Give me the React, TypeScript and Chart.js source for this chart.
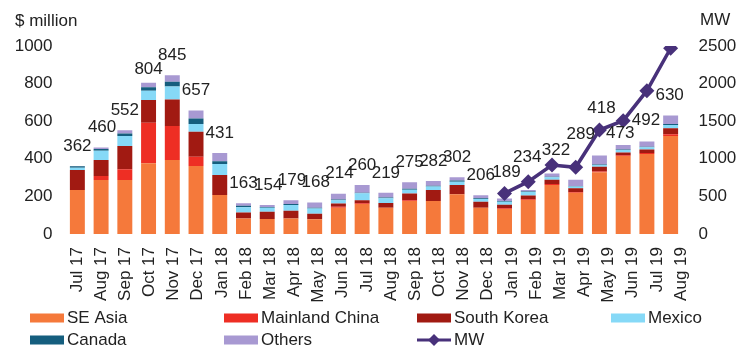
import React, { useEffect, useRef } from "react";
import { Chart, registerables } from "chart.js";

Chart.register(...registerables);

const months = [
  "Jul 17", "Aug 17", "Sep 17", "Oct 17", "Nov 17", "Dec 17", "Jan 18", "Feb 18", "Mar 18",
  "Apr 18", "May 18", "Jun 18", "Jul 18", "Aug 18", "Sep 18", "Oct 18", "Nov 18", "Dec 18",
  "Jan 19", "Feb 19", "Mar 19", "Apr 19", "May 19", "Jun 19", "Jul 19", "Aug 19",
];

const seAsia = [234, 287, 287, 376, 394, 362, 207, 83, 80, 82, 78, 140, 160, 140, 175, 175, 211, 140, 133, 181, 261, 220, 328, 415, 426, 521];
const mainlandChina = [0, 21, 57, 216, 180, 49, 0, 0, 0, 0, 0, 5, 4, 0, 5, 0, 0, 0, 4, 4, 5, 4, 5, 4, 5, 10];
const southKorea = [106, 86, 124, 121, 142, 133, 107, 32, 39, 42, 30, 17, 15, 25, 36, 59, 50, 32, 18, 20, 23, 20, 25, 15, 19, 31];
const mexico = [12, 49, 53, 49, 68, 41, 58, 27, 20, 30, 27, 18, 38, 25, 20, 18, 17, 14, 16, 18, 13, 9, 9, 13, 11, 18];
const canada = [8, 9, 14, 18, 26, 30, 15, 8, 4, 5, 5, 4, 3, 4, 5, 5, 6, 4, 4, 3, 3, 2, 3, 3, 3, 5];
const others = [2, 8, 17, 24, 35, 42, 44, 13, 11, 20, 28, 30, 40, 25, 34, 25, 18, 16, 14, 8, 17, 34, 48, 23, 28, 45];
const totals = [362, 460, 552, 804, 845, 657, 431, 163, 154, 179, 168, 214, 260, 219, 275, 282, 302, 206, 189, 234, 322, 289, 418, 473, 492, 630];
const mw = [null, null, null, null, null, null, null, null, null, null, null, null, null, null, null, null, null, null, 540, 696, 918, 887, 1383, 1507, 1906, 2470];

const leftTicks = [0, 200, 400, 600, 800, 1000];
const rightTicks = [0, 500, 1000, 1500, 2000, 2500];

// annotation nudges for the total labels (dx, dy in px)
const labelNudge: [number, number][] = [
  [0, 0], [1, 0], [0, 0], [0, 6], [0, 0], [0, 0], [0, 0], [0, 0], [1, 0],
  [1, 0], [1, 0], [1, 0], [0, 0], [0, 0], [0, 0], [0, 0], [0, 0], [0, 0],
  [2, -6], [-1, -13], [4, -3], [5, -25], [2, -27], [-3, 8], [-1, -1], [-1, 0],
];

const FONT = "'Liberation Sans', Arial, Helvetica, sans-serif";
const TEXT = "#222222";

const colors = {
  se: "#F5793B",
  cn: "#EE2E24",
  kr: "#A11A12",
  mx: "#86D9F7",
  ca: "#155E7E",
  ot: "#A899D2",
  mw: "#48317A",
};

const legendItems = [
  { label: "SE Asia", color: colors.se, kind: "box" },
  { label: "Mainland China", color: colors.cn, kind: "box" },
  { label: "South Korea", color: colors.kr, kind: "box" },
  { label: "Mexico", color: colors.mx, kind: "box" },
  { label: "Canada", color: colors.ca, kind: "box" },
  { label: "Others", color: colors.ot, kind: "box" },
  { label: "MW", color: colors.mw, kind: "line" },
];

const labelPlugin = {
  id: "totalsAndDecor",
  afterDatasetsDraw(chart: any) {
    const ctx = chart.ctx;
    const x = chart.scales.x;
    const y = chart.scales.y;
    ctx.save();
    ctx.font = `17px ${FONT}`;
    ctx.fillStyle = TEXT;
    ctx.textAlign = "center";
    ctx.textBaseline = "middle";
    totals.forEach((t, i) => {
      const px = x.getPixelForValue(i) + labelNudge[i][0];
      const py = y.getPixelForValue(t) - 20 + labelNudge[i][1];
      ctx.fillText(String(t), px, py);
    });
    ctx.restore();
  },
  afterDraw(chart: any) {
    const ctx = chart.ctx;
    ctx.save();
    ctx.font = `17px ${FONT}`;
    ctx.fillStyle = TEXT;
    ctx.textBaseline = "middle";
    ctx.textAlign = "left";
    ctx.fillText("$ million", 15, 21);
    ctx.fillText("MW", 700, 20);
    // legend
    const cols = [30, 224, 417, 611];
    const rows = [318, 340];
    legendItems.forEach((it, i) => {
      const cx = cols[i % 4];
      const cy = rows[Math.floor(i / 4)];
      if (it.kind === "box") {
        ctx.fillStyle = it.color;
        ctx.fillRect(cx, cy - 4.5, 34, 9);
      } else {
        ctx.strokeStyle = it.color;
        ctx.lineWidth = 3;
        ctx.beginPath();
        ctx.moveTo(cx, cy);
        ctx.lineTo(cx + 34, cy);
        ctx.stroke();
        ctx.fillStyle = it.color;
        ctx.beginPath();
        ctx.moveTo(cx + 17, cy - 6);
        ctx.lineTo(cx + 23, cy);
        ctx.lineTo(cx + 17, cy + 6);
        ctx.lineTo(cx + 11, cy);
        ctx.closePath();
        ctx.fill();
      }
      ctx.fillStyle = TEXT;
      ctx.fillText(it.label, cx + 37, cy);
    });
    ctx.restore();
  },
};

export default function App() {
  const ref = useRef<HTMLCanvasElement>(null);
  useEffect(() => {
    document.body.style.margin = "0";
    Chart.defaults.font.family = FONT;
    Chart.defaults.color = TEXT;
    const barDs = (label: string, data: number[], color: string) => ({
      type: "bar" as const,
      label,
      data,
      backgroundColor: color,
      borderWidth: 0,
      xAxisID: "x",
      yAxisID: "y",
      order: 2,
      barPercentage: 0.63,
      categoryPercentage: 1,
    });
    const chart = new Chart(ref.current!, {
      type: "bar",
      data: {
        labels: months,
        datasets: [
          barDs("SE Asia", seAsia, colors.se),
          barDs("Mainland China", mainlandChina, colors.cn),
          barDs("South Korea", southKorea, colors.kr),
          barDs("Mexico", mexico, colors.mx),
          barDs("Canada", canada, colors.ca),
          barDs("Others", others, colors.ot),
          {
            type: "line" as const,
            label: "MW",
            data: mw as any,
            borderColor: colors.mw,
            backgroundColor: colors.mw,
            borderWidth: 3.5,
            pointStyle: "rectRot",
            pointRadius: 7.5,
            pointBackgroundColor: colors.mw,
            pointBorderWidth: 0,
            xAxisID: "x",
            yAxisID: "y1",
            order: 0,
            spanGaps: false,
          } as any,
        ],
      },
      options: {
        responsive: false,
        animation: false,
        layout: { padding: { top: 46, left: 0, right: 0, bottom: 0 } },
        plugins: { legend: { display: false }, tooltip: { enabled: false } },
        scales: {
          x: {
            type: "category",
            stacked: true,
            display: false,
          },
          xl: {
            type: "linear",
            position: "bottom",
            bounds: "data",
            offset: false,
            min: -0.472,
            max: 25.06,
            grid: { display: false, drawTicks: false, offset: false },
            border: { display: false },
            afterBuildTicks: (s: any) => { s.ticks = months.map((_, i) => ({ value: i })); },
            afterDataLimits: (s: any) => { s.min = -0.472; s.max = 25.06; },
            ticks: {
              minRotation: 90,
              maxRotation: 90,
              autoSkip: false,
              padding: 13,
              font: { size: 17, family: FONT },
              color: TEXT,
              callback: (v: any) => months[Math.round(Number(v))],
            },
            afterFit: (s: any) => { s.height = 115; },
          },
          y: {
            stacked: true,
            position: "left",
            min: 0,
            max: 1000,
            grid: { display: false, drawTicks: false },
            border: { display: false },
            afterBuildTicks: (s: any) => { s.ticks = leftTicks.map((v) => ({ value: v })); },
            ticks: { padding: 13, font: { size: 17, family: FONT }, color: TEXT, callback: (v: any) => String(v) },
            afterFit: (s: any) => { s.width = 65.5; },
          },
          y1: {
            stacked: false,
            position: "right",
            min: 0,
            max: 2500,
            grid: { display: false, drawTicks: false },
            border: { display: false },
            afterBuildTicks: (s: any) => { s.ticks = rightTicks.map((v) => ({ value: v })); },
            ticks: { padding: 16, font: { size: 17, family: FONT }, color: TEXT, callback: (v: any) => String(v) },
            afterFit: (s: any) => { s.width = 62.5; },
          },
        },
      } as any,
      plugins: [labelPlugin],
    });
    return () => chart.destroy();
  }, []);
  return (
    <div style={{ position: "absolute", left: 0, top: 0, width: 745, height: 349, background: "#fff" }}>
      <canvas ref={ref} width={745} height={349} />
    </div>
  );
}
